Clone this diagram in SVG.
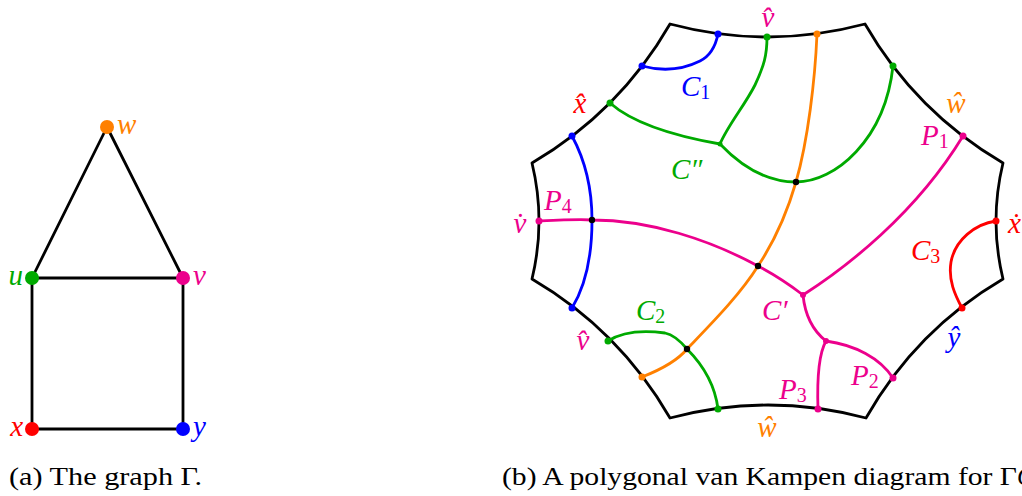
<svg xmlns="http://www.w3.org/2000/svg" width="1022" height="496" viewBox="0 0 1022 496">
<style>
.edge{fill:none;stroke:#000;stroke-width:2.8;stroke-linecap:round;stroke-linejoin:round}
.c{fill:none;stroke-width:2.8;stroke-linecap:round;stroke-linejoin:round}
.lbl{font-family:'Liberation Serif',serif;font-style:italic;font-size:29px}
.sub{font-size:20px;font-style:normal}
.cap{font-family:'Liberation Serif',serif;font-size:25px;fill:#000}
.or{stroke:#FF8000}.gr{stroke:#00AA00}.mg{stroke:#EC008C}.bl{stroke:#0000FF}.rd{stroke:#FF0000}
.tor{fill:#FF8000}.tgr{fill:#00AA00}.tmg{fill:#EC008C}.tbl{fill:#0000FF}.trd{fill:#FF0000}
</style>
<rect width="1022" height="496" fill="#fff"/>

<!-- Left: graph Gamma -->
<g id="graph-edges">
  <line class="edge" x1="107" y1="127" x2="32" y2="278"/>
  <line class="edge" x1="107" y1="127" x2="183" y2="278"/>
  <line class="edge" x1="32" y1="278" x2="183" y2="278"/>
  <line class="edge" x1="32" y1="278" x2="32" y2="429"/>
  <line class="edge" x1="183" y1="278" x2="183" y2="429"/>
  <line class="edge" x1="32" y1="429" x2="183" y2="429"/>
</g>
<g id="node-w"><circle cx="107" cy="127" r="7" class="tor"/><text x="117" y="134" class="lbl tor">w</text></g>
<g id="node-u"><circle cx="32" cy="278" r="7" class="tgr"/><text x="23" y="285" class="lbl tgr" text-anchor="end">u</text></g>
<g id="node-v"><circle cx="183" cy="278" r="7" class="tmg"/><text x="193" y="285" class="lbl tmg">v</text></g>
<g id="node-x"><circle cx="32" cy="429" r="7" class="trd"/><text x="23" y="436" class="lbl trd" text-anchor="end">x</text></g>
<g id="node-y"><circle cx="183" cy="429" r="7" class="tbl"/><text x="193" y="436" class="lbl tbl">y</text></g>

<!-- Right: van Kampen diagram -->
<g id="boundary">
  <path class="edge" d="M670,24 Q767.5,50 865,24 Q915.6,111.8 1003,163 Q989,221 1003,279 Q916,330 866,418 Q768,392 670,418 Q619.4,330.2 532,279 Q546,221 532,163 Q619.4,111.8 670,24 Z"/>
</g>

<g id="connectors">
  <path class="c bl" d="M718,34 C716,44 712,55 700,61 C688,67 668,73 642,66"/>
  <path class="c gr" d="M610,103 C635,125 680,137 720,144"/>
  <path class="c gr" d="M720,144 C728,125 745,105 755,85 C764,66 767,55 767,37"/>
  <path class="c gr" d="M720,144 C740,165 765,182 796,182 C835,182 885,140 893,66"/>
  <path class="c or" d="M817,34 C815,80 808,140 796,182 C785,220 772,245 758,266 C740,295 710,325 687,349 C678,360 665,368 642,377"/>
  <path class="c mg" d="M539,221 C560,220 580,219 592,220 C650,220 710,240 758,266 C775,275 790,285 803,295"/>
  <path class="c mg" d="M803,295 C845,268 915,215 963,136"/>
  <path class="c mg" d="M803,295 C805,315 812,330 826,341"/>
  <path class="c mg" d="M826,341 C818,355 817,380 818,409"/>
  <path class="c mg" d="M826,341 C855,345 880,358 893,378"/>
  <path class="c rd" d="M996,221 C975,224 955,240 951,262 C948,280 955,295 962,308"/>
  <path class="c bl" d="M572,136 C585,160 592,190 592,220 C592,255 586,285 572,308"/>
  <path class="c gr" d="M608,341 C625,330 650,331 665,333 C675,335 682,343 687,349 C703,365 715,385 718,409"/>
</g>

<g id="dots">
  <circle cx="718" cy="34" r="3.5" class="tbl"/>
  <circle cx="642" cy="66" r="3.5" class="tbl"/>
  <circle cx="767" cy="37" r="3.5" class="tgr"/>
  <circle cx="610" cy="103" r="3.5" class="tgr"/>
  <circle cx="893" cy="66" r="3.5" class="tgr"/>
  <circle cx="720" cy="144" r="2.5" class="tgr"/>
  <circle cx="817" cy="34" r="3.5" class="tor"/>
  <circle cx="572" cy="136" r="3.5" class="tbl"/>
  <circle cx="572" cy="308" r="3.5" class="tbl"/>
  <circle cx="539" cy="221" r="3.5" class="tmg"/>
  <circle cx="963" cy="136" r="3.5" class="tmg"/>
  <circle cx="893" cy="378" r="3.5" class="tmg"/>
  <circle cx="818" cy="409" r="3.5" class="tmg"/>
  <circle cx="803" cy="295" r="3" class="tmg"/>
  <circle cx="826" cy="341" r="3" class="tmg"/>
  <circle cx="996" cy="221" r="3.5" class="trd"/>
  <circle cx="962" cy="308" r="3.5" class="trd"/>
  <circle cx="608" cy="341" r="3.5" class="tgr"/>
  <circle cx="718" cy="409" r="3.5" class="tgr"/>
  <circle cx="642" cy="377" r="3.5" class="tor"/>
  <circle cx="796" cy="182" r="3.2" fill="#000"/>
  <circle cx="758" cy="266" r="3.2" fill="#000"/>
  <circle cx="687" cy="349" r="3.2" fill="#000"/>
  <circle cx="592" cy="220" r="3.2" fill="#000"/>
</g>

<g id="labels">
  <text x="768" y="27" class="lbl tmg" text-anchor="middle">v&#770;</text>
  <text x="580" y="113" class="lbl trd" text-anchor="middle">x&#770;</text>
  <text x="956" y="113" class="lbl tor" text-anchor="middle">w&#770;</text>
  <text x="921" y="145" class="lbl tmg">P<tspan class="sub" dy="3">1</tspan></text>
  <text x="681" y="96" class="lbl tbl">C<tspan class="sub" dy="3">1</tspan></text>
  <text x="671" y="179" class="lbl tgr">C″</text>
  <text x="520" y="233" class="lbl tmg" text-anchor="middle">v&#775;</text>
  <text x="544" y="210" class="lbl tmg">P<tspan class="sub" dy="3">4</tspan></text>
  <text x="1008" y="233" class="lbl trd">x&#775;</text>
  <text x="911" y="260" class="lbl trd">C<tspan class="sub" dy="3">3</tspan></text>
  <text x="762" y="320" class="lbl tmg">C′</text>
  <text x="583" y="350" class="lbl tmg" text-anchor="middle">v&#770;</text>
  <text x="636" y="320" class="lbl tgr">C<tspan class="sub" dy="3">2</tspan></text>
  <text x="954" y="347" class="lbl tbl" text-anchor="middle">y&#770;</text>
  <text x="851" y="385" class="lbl tmg">P<tspan class="sub" dy="3">2</tspan></text>
  <text x="779" y="399" class="lbl tmg">P<tspan class="sub" dy="3">3</tspan></text>
  <text x="767" y="437" class="lbl tor" text-anchor="middle">w&#770;</text>
</g>

<g id="captions">
  <text x="9" y="485" class="cap" textLength="193" lengthAdjust="spacingAndGlyphs">(a) The graph Γ.</text>
  <text x="502" y="485" class="cap" textLength="515" lengthAdjust="spacingAndGlyphs">(b) A polygonal van Kampen diagram for Γ</text>
  <text x="1017" y="485" class="cap" font-style="italic">G</text>
</g>
</svg>
